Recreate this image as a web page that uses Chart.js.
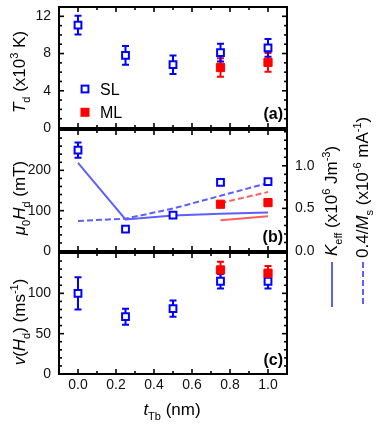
<!DOCTYPE html>
<html><head><meta charset="utf-8">
<script src="https://cdn.jsdelivr.net/npm/chart.js@4/dist/chart.umd.min.js"></script>
<style>
html,body{margin:0;padding:0;background:#fff;}
#wrap{position:relative;width:381px;height:427px;overflow:hidden;}
#wrap canvas{position:absolute;left:0;top:0;}
</style></head><body>
<div id="wrap">
<canvas id="ca" width="381" height="427"></canvas>
<canvas id="cc" width="381" height="427"></canvas>
<canvas id="cb" width="381" height="427"></canvas>
<canvas id="cbf" width="381" height="427"></canvas>
</div>
<script>
// ---------- data ----------
const tSL = [0, 0.25, 0.5, 0.75, 1.0];
const tML = [0.75, 1.0];
const xTickLabels = [0, 0.2, 0.4, 0.6, 0.8, 1.0];

// (a) T_d (x10^3 K)
const tdSL = [11.05, 7.8, 6.8, 8.1, 8.6];
const tdSLErr = [1.0, 1.0, 1.0, 0.95, 0.95];
const tdML = [6.5, 7.05];
const tdMLErr = [1.0, 1.0];
const tdTicks = [0, 4, 8, 12];

// (b) mu0 H_d (mT)
const hdSL = [250, 54, 89, 170, 172];
const hdSLErr = [19, 3, 3, 3, 3];
const hdML = [116, 120];
const hdMLErr = [4, 4];
const hdTicks = [0, 100, 200];

// (b) right axis: K_eff (x10^6 J m^-3) and 0.4/M_s (x10^-6 m A^-1)
const keffSL = [1.033, 0.371, 0.418, 0.437, 0.451];
const invMsSL = [0.352, 0.380, 0.498, 0.648, 0.798];
const keffML = [0.36, 0.407];
const invMsML = [0.563, 0.692];
const rightTicks = [0, 0.5, 1.0];

// (c) v(H_d) (m s^-1)
const vSL = [100, 71, 81, 115, 115];
const vSLErr = [20, 10, 10, 9, 9];
const vML = [129, 125];
const vMLErr = [10, 9];
const vTicks = [0, 50, 100];

// ---------- helpers ----------
const FAM = '"Liberation Sans", Arial, Helvetica, sans-serif';
const BLUE = '#0000ff', RED = '#ff0000';
const BLUE_L = 'rgb(95,95,255)', RED_L = 'rgb(255,95,95)';
const pts = (xs, ys) => xs.map((x, i) => ({x: x, y: ys[i]}));
function range(a, b, s){ const r=[]; for(let v=a; v<=b+1e-9; v+=s) r.push(+v.toFixed(4)); return r; }
const tickFont = {family: FAM, size: 14};

function drawRich(ctx, segs, x, y, rot, align, size){
  ctx.save();
  ctx.translate(x, y);
  if (rot) ctx.rotate(-Math.PI/2);
  let w = 0;
  const items = segs.map(s => {
    const small = s.sub || s.sup;
    const fs = small ? Math.round(size*0.66) : size;
    const f = (s.it ? 'italic ' : '') + (s.b ? 'bold ' : '') + fs + 'px ' + FAM;
    ctx.font = f;
    const mw = ctx.measureText(s.t).width;
    const dy = s.sub ? size*0.27 : (s.sup ? -size*0.42 : 0);
    w += mw;
    return {t: s.t, f: f, mw: mw, dy: dy};
  });
  let cx = align === 'center' ? -w/2 : (align === 'right' ? -w : 0);
  ctx.textBaseline = 'alphabetic';
  ctx.textAlign = 'left';
  ctx.fillStyle = '#000';
  for (const it of items){ ctx.font = it.f; ctx.fillText(it.t, cx, it.dy); cx += it.mw; }
  ctx.restore();
}

const errPlugin = {
  id: 'errbars',
  beforeDatasetsDraw(chart){
    const ctx = chart.ctx, xs = chart.scales.x;
    chart.data.datasets.forEach(ds => {
      if (!ds.errors) return;
      const ys = chart.scales[ds.yAxisID || 'y'];
      ctx.save();
      ctx.strokeStyle = ds.borderColor;
      ctx.lineWidth = 2;
      ds.data.forEach((p, j) => {
        const e = ds.errors[j];
        const px = xs.getPixelForValue(p.x);
        const y1 = ys.getPixelForValue(p.y - e), y2 = ys.getPixelForValue(p.y + e);
        ctx.beginPath();
        ctx.moveTo(px, y1); ctx.lineTo(px, y2);
        ctx.moveTo(px-3.5, y1); ctx.lineTo(px+3.5, y1);
        ctx.moveTo(px-3.5, y2); ctx.lineTo(px+3.5, y2);
        ctx.stroke();
      });
      ctx.restore();
    });
  }
};

const xMajor = range(0, 1.0, 0.2);
const xMinor = range(0.1, 0.9, 0.2);

function framePlugin(cfg){
  return {
    id: 'frame',
    afterDraw(chart){
      const ctx = chart.ctx, a = chart.chartArea, xs = chart.scales.x;
      ctx.save();
      ctx.strokeStyle = '#000';
      ctx.lineWidth = 1.6;
      const seg = (x1,y1,x2,y2) => { ctx.beginPath(); ctx.moveTo(x1,y1); ctx.lineTo(x2,y2); ctx.stroke(); };
      xMajor.forEach(v => { const p = xs.getPixelForValue(v); seg(p,a.bottom,p,a.bottom-5); seg(p,a.top,p,a.top+5); });
      xMinor.forEach(v => { const p = xs.getPixelForValue(v); seg(p,a.bottom,p,a.bottom-3); seg(p,a.top,p,a.top+3); });
      const yl = chart.scales.y;
      cfg.lMajor.forEach(v => { const p = yl.getPixelForValue(v); seg(a.left,p,a.left+5,p); });
      cfg.lMinor.forEach(v => { const p = yl.getPixelForValue(v); seg(a.left,p,a.left+3,p); });
      const yr = chart.scales[cfg.rId || 'y'];
      cfg.rMajor.forEach(v => { const p = yr.getPixelForValue(v); seg(a.right,p,a.right-5,p); });
      cfg.rMinor.forEach(v => { const p = yr.getPixelForValue(v); seg(a.right,p,a.right-3,p); });
      ctx.lineWidth = 2;
      ctx.strokeRect(a.left, a.top, a.right-a.left, a.bottom-a.top);
      drawRich(ctx, [{t: cfg.label, b: true}], a.right-4, a.bottom-9, false, 'right', 16);
      ctx.restore();
      if (cfg.extra) cfg.extra(chart);
      if (cfg.labels) {
        // tick labels placed through the chart's own scales
        ctx.save();
        ctx.font = '14px ' + FAM;
        ctx.fillStyle = '#111';
        ctx.textBaseline = 'middle';
        ctx.textAlign = 'right';
        cfg.labels.left.forEach(v => ctx.fillText(String(v), a.left - 8, yl.getPixelForValue(v)));
        ctx.textAlign = 'left';
        cfg.labels.right.forEach(v => ctx.fillText(v.toFixed(1), a.right + 8, yr.getPixelForValue(v)));
        ctx.restore();
      }
    }
  };
}

function yScale(min, max, ticks, showLabels){
  return {
    type: 'linear', min: min, max: max, position: 'left',
    grid: {display: false, drawTicks: false}, border: {display: false},
    ticks: {display: showLabels !== false, font: tickFont, color: '#111', padding: 8, autoSkip: false, callback: v => String(v)},
    afterBuildTicks: s => { s.ticks = ticks.map(v => ({value: v})); },
    afterFit: s => { s.width = 59; s.paddingTop = 0; s.paddingBottom = 0; }
  };
}
function yRight(showLabels){
  return {
    type: 'linear', min: 0, max: 1.42, position: 'right',
    grid: {display: false, drawTicks: false}, border: {display: false},
    ticks: {display: showLabels !== false, font: tickFont, color: '#111', padding: 8, autoSkip: false, callback: v => Number(v).toFixed(1)},
    afterBuildTicks: s => { s.ticks = rightTicks.map(v => ({value: v})); },
    afterFit: s => { s.width = 94; s.paddingTop = 0; s.paddingBottom = 0; }
  };
}
function xHidden(){ return {type: 'linear', min: -0.1, max: 1.1, display: false}; }

function sq(data, color, filled, err, yId){
  return {
    data: data, yAxisID: yId || 'y', showLine: false, errors: err,
    pointStyle: 'rect',
    pointRadius: filled ? 5.8 : 4.8,
    borderWidth: filled ? 1 : 2,
    borderColor: color,
    backgroundColor: filled ? color : '#ffffff'
  };
}
function ln(data, color, dashed){
  return {
    data: data, yAxisID: 'y2', showLine: true, pointRadius: 0,
    borderColor: color, borderWidth: 2, borderDash: dashed ? [6, 3] : [],
    backgroundColor: color, fill: false
  };
}
const common = {responsive: false, animation: false, events: [],
  plugins: {legend: {display: false}, tooltip: {enabled: false}}};

// ---------- chart (a) ----------
new Chart(document.getElementById('ca'), {
  type: 'scatter',
  data: {datasets: [sq(pts(tML, tdML), RED, true, tdMLErr), sq(pts(tSL, tdSL), BLUE, false, tdSLErr)]},
  options: Object.assign({}, common, {
    layout: {padding: {top: 7, left: 0, right: 94, bottom: 299}},
    scales: {x: xHidden(), y: yScale(0, 13, tdTicks)}
  }),
  plugins: [errPlugin, framePlugin({
    label: '(a)', lMajor: tdTicks, lMinor: range(1, 13, 1).filter(v => v % 4),
    rMajor: tdTicks, rMinor: range(1, 13, 1).filter(v => v % 4),
    extra: chart => {
      const ctx = chart.ctx;
      ctx.save();
      ctx.strokeStyle = BLUE; ctx.lineWidth = 2; ctx.fillStyle = '#fff';
      ctx.fillRect(81.6, 85.6, 6.8, 6.8); ctx.strokeRect(81.6, 85.6, 6.8, 6.8);
      ctx.fillStyle = RED; ctx.fillRect(80.5, 107.8, 9, 9);
      ctx.restore();
      drawRich(ctx, [{t: 'SL'}], 100, 95, false, 'left', 16);
      drawRich(ctx, [{t: 'ML'}], 100, 118, false, 'left', 16);
      drawRich(ctx, [{t: 'T', it: true}, {t: 'd', sub: true}, {t: ' (x10'}, {t: '3', sup: true}, {t: ' K)'}], 25, 72, true, 'center', 17);
    }
  })]
});

// ---------- chart (c) ----------
new Chart(document.getElementById('cc'), {
  type: 'scatter',
  data: {datasets: [sq(pts(tML, vML), RED, true, vMLErr), sq(pts(tSL, vSL), BLUE, false, vSLErr)]},
  options: Object.assign({}, common, {
    layout: {padding: {top: 253, left: 0, right: 94, bottom: 0}},
    scales: {
      x: {
        type: 'linear', min: -0.1, max: 1.1, position: 'bottom',
        grid: {display: false, drawTicks: false}, border: {display: false},
        ticks: {font: tickFont, color: '#111', padding: 3, maxRotation: 0, autoSkip: false, callback: v => Number(v).toFixed(1)},
        afterBuildTicks: s => { s.ticks = xTickLabels.map(v => ({value: v})); },
        afterFit: s => { s.height = 53; s.paddingLeft = 0; s.paddingRight = 0; }
      },
      y: yScale(0, 150, vTicks)
    }
  }),
  plugins: [errPlugin, framePlugin({
    label: '(c)', lMajor: [0, 50, 100, 150], lMinor: range(10, 140, 10).filter(v => v % 50),
    rMajor: [0, 50, 100, 150], rMinor: range(10, 140, 10).filter(v => v % 50),
    extra: chart => {
      const ctx = chart.ctx;
      drawRich(ctx, [{t: 'v', it: true}, {t: '('}, {t: 'H', it: true}, {t: 'd', sub: true}, {t: ') (ms'}, {t: '-1', sup: true}, {t: ')'}], 25, 322, true, 'center', 17);
      drawRich(ctx, [{t: 't', it: true}, {t: 'Tb', sub: true}, {t: ' (nm)'}], 172, 415, false, 'center', 17);
    }
  })]
});

// ---------- chart (b): data and error bars ----------
new Chart(document.getElementById('cb'), {
  type: 'scatter',
  data: {datasets: [
    sq(pts(tML, hdML), RED, true, hdMLErr),
    sq(pts(tSL, hdSL), BLUE, false, hdSLErr),
    ln(pts(tSL, keffSL), BLUE_L, false),
    ln(pts(tSL, invMsSL), BLUE_L, true),
    ln(pts(tML, keffML), RED_L, false),
    ln(pts(tML, invMsML), RED_L, true)
  ]},
  options: Object.assign({}, common, {
    layout: {padding: {top: 130, left: 0, right: 0, bottom: 176}},
    scales: {x: xHidden(), y: yScale(0, 300, hdTicks, false), y2: yRight(false)}
  }),
  plugins: [errPlugin]
});

// ---------- chart (b): frame, ticks, tick labels and titles (same scales) ----------
new Chart(document.getElementById('cbf'), {
  type: 'scatter',
  data: {datasets: []},
  options: Object.assign({}, common, {
    layout: {padding: {top: 130, left: 0, right: 0, bottom: 176}},
    scales: {x: xHidden(), y: yScale(0, 300, hdTicks, false), y2: yRight(false)}
  }),
  plugins: [framePlugin({
    label: '(b)', lMajor: hdTicks, lMinor: range(20, 280, 20).filter(v => v % 100),
    rId: 'y2', rMajor: rightTicks, rMinor: range(0.1, 1.4, 0.1).filter(v => Math.abs(v - 0.5) > 0.01 && Math.abs(v - 1.0) > 0.01),
    labels: {left: hdTicks, right: rightTicks},
    extra: chart => {
      const ctx = chart.ctx;
      drawRich(ctx, [{t: 'μ', it: true}, {t: '0', sub: true}, {t: 'H', it: true}, {t: 'd', sub: true}, {t: ' (mT)'}], 25, 198, true, 'center', 17);
      drawRich(ctx, [{t: 'K', it: true}, {t: 'eff', sub: true}, {t: ' (x10'}, {t: '6', sup: true}, {t: ' Jm'}, {t: '-3', sup: true}, {t: ')'}], 337, 256, true, 'left', 17);
      drawRich(ctx, [{t: '0.4/'}, {t: 'M', it: true}, {t: 's', sub: true}, {t: ' (x10'}, {t: '-6', sup: true}, {t: ' mA'}, {t: '-1', sup: true}, {t: ')'}], 368, 258, true, 'left', 17);
      ctx.save();
      ctx.lineWidth = 2;
      ctx.strokeStyle = BLUE_L;
      ctx.beginPath(); ctx.moveTo(332, 262); ctx.lineTo(332, 307); ctx.stroke();
      ctx.setLineDash([6, 3]);
      ctx.beginPath(); ctx.moveTo(363, 262); ctx.lineTo(363, 307); ctx.stroke();
      ctx.restore();
    }
  })]
});
</script>
</body></html>
